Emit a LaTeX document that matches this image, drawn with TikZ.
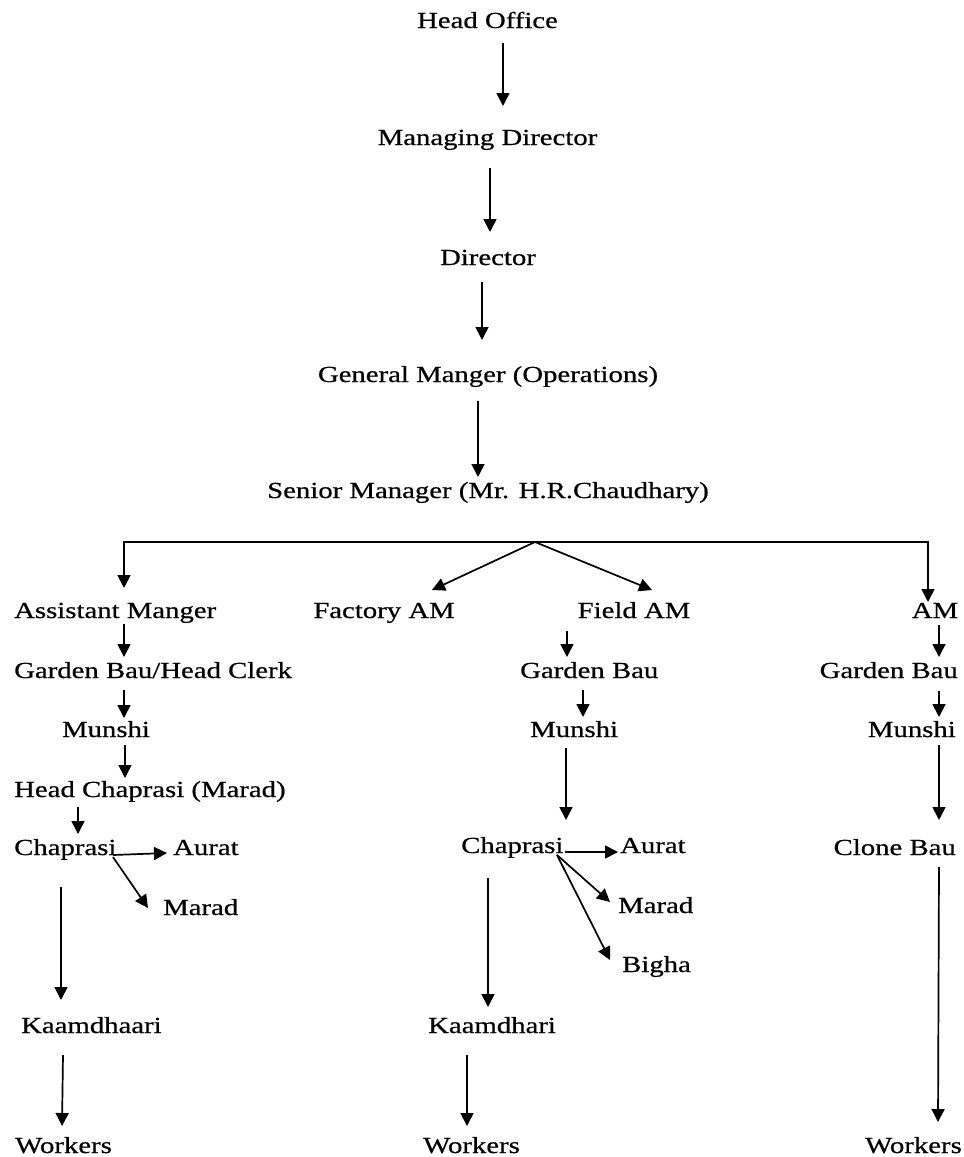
\documentclass[tikz,border=0pt]{standalone}
\usepackage{fontspec}
\setmainfont{Liberation Serif}[FakeStretch=1.25,FakeBold=0.6]
\usetikzlibrary{arrows.meta,calc}
\begin{document}
\begin{tikzpicture}[x=1pt,y=-1pt,
  lbl/.style={inner sep=0pt, font=\fontsize{23}{27}\selectfont},
  arr/.style={line width=1.7pt, -{Triangle[width=13pt,length=13pt]}}]
\useasboundingbox (0,0) rectangle (964,1157);
% top chain
\node[lbl,anchor=base] (ho) at (487.5,28) {Head Office};
\node[lbl,anchor=base] (md) at (487.5,145) {Managing Director};
\node[lbl,anchor=base] (dir) at (488,265) {Director};
\node[lbl,anchor=base] (gm) at (488,382) {General Manger (Operations)};
\node[lbl,anchor=base] (sm) at (488,498) {Senior Manager (Mr. H.R.Chaudhary)};
% row of managers
\node[lbl,anchor=base west] (am1) at (14,618) {Assistant Manger};
\node[lbl,anchor=base] (fam) at (384,618) {Factory AM};
\node[lbl,anchor=base] (fld) at (634,618) {Field AM};
\node[lbl,anchor=base] (am2) at (935,618) {AM};
% left column
\node[lbl,anchor=base west] (gbh) at (14,678) {Garden Bau/Head Clerk};
\node[lbl,anchor=base] (mu1) at (106,737) {Munshi};
\node[lbl,anchor=base west] (hc) at (14,797) {Head Chaprasi (Marad)};
\node[lbl,anchor=base west] (ch1) at (14,855) {Chaprasi};
\node[lbl,anchor=base west] (au1) at (173,855) {Aurat};
\node[lbl,anchor=base west] (ma1) at (163,915) {Marad};
\node[lbl,anchor=base west] (ka1) at (21,1033) {Kaamdhaari};
\node[lbl,anchor=base west] (wk1) at (15,1153) {Workers};
% middle column
\node[lbl,anchor=base west] (gb2) at (520,678) {Garden Bau};
\node[lbl,anchor=base west] (mu2) at (530,737) {Munshi};
\node[lbl,anchor=base west] (ch2) at (461,853) {Chaprasi};
\node[lbl,anchor=base west] (au2) at (620,853) {Aurat};
\node[lbl,anchor=base west] (ma2) at (618,913) {Marad};
\node[lbl,anchor=base west] (bi2) at (622,972) {Bigha};
\node[lbl,anchor=base west] (ka2) at (428,1033) {Kaamdhari};
\node[lbl,anchor=base west] (wk2) at (423,1153) {Workers};
% right column
\node[lbl,anchor=base east] (gb3) at (958,678) {Garden Bau};
\node[lbl,anchor=base east] (mu3) at (956,737) {Munshi};
\node[lbl,anchor=base east] (cb3) at (956,855) {Clone Bau};
\node[lbl,anchor=base east] (wk3) at (962,1153) {Workers};
% top arrows
\draw[arr] ($(ho.base)+(15.5,15)$) -- ($(md.base)+(15.5,-39)$);
\draw[arr] ($(md.base)+(2.5,23)$) -- ($(dir.base)+(2,-33)$);
\draw[arr] ($(dir.base)+(-6,17)$) -- ($(gm.base)+(-6,-42)$);
\draw[arr] ($(gm.base)+(-10,19)$) -- ($(sm.base)+(-10,-21)$);
% branching
\coordinate (apex) at ($(sm.base)+(47,44)$);
\draw[arr] (apex) -| ($(am1.base west)+(110,-30)$);
\draw[arr] (apex) -| ($(am2.base)+(-7,-16)$);
\draw[arr] (apex) -- ($(fam.base)+(48,-28)$);
\draw[arr] (apex) -- ($(fld.base)+(18,-28)$);
% left column arrows
\draw[arr] ($(am1.base west)+(110,6)$) -- ($(gbh.base west)+(110,-21)$);
\draw[arr] ($(gbh.base west)+(110,12)$) -- ($(mu1.base)+(18,-19)$);
\draw[arr] ($(mu1.base)+(19,8)$) -- ($(hc.base west)+(111,-19)$);
\draw[arr] ($(hc.base west)+(64,10)$) -- ($(ch1.base west)+(64,-21)$);
\draw[arr] ($(ch1.base west)+(99,0)$) -- ($(au1.base west)+(-6,-2)$);
\draw[arr] ($(ch1.base west)+(99,2)$) -- ($(ma1.base west)+(-15,-7)$);
\draw[arr] ($(ch1.base west)+(47,32)$) -- ($(ka1.base west)+(40,-33)$);
\draw[arr] ($(ka1.base west)+(42,22)$) -- ($(wk1.base west)+(47,-27)$);
% middle column arrows
\draw[arr] ($(fld.base)+(-67,13)$) -- ($(gb2.base west)+(47,-21)$);
\draw[arr] ($(gb2.base west)+(63,12)$) -- ($(mu2.base west)+(53,-20)$);
\draw[arr] ($(mu2.base west)+(36,11)$) -- ($(ch2.base west)+(105,-33)$);
\draw[arr] ($(ch2.base west)+(104,-1)$) -- ($(au2.base west)+(-2,-1)$);
\draw[arr] ($(ch2.base west)+(96,2)$) -- ($(ma2.base west)+(-8,-11)$);
\draw[arr] ($(ch2.base west)+(96,2)$) -- ($(bi2.base west)+(-12,-12)$);
\draw[arr] ($(ch2.base west)+(27,25)$) -- ($(ka2.base west)+(60,-26)$);
\draw[arr] ($(ka2.base west)+(39,22)$) -- ($(wk2.base west)+(44,-27)$);
% right column arrows
\draw[arr] ($(am2.base)+(4,7)$) -- ($(gb3.base east)+(-19,-21)$);
\draw[arr] ($(gb3.base east)+(-19,13)$) -- ($(mu3.base east)+(-17,-20)$);
\draw[arr] ($(mu3.base east)+(-17,8)$) -- ($(cb3.base east)+(-17,-35)$);
\draw[arr] ($(cb3.base east)+(-17,12)$) -- ($(wk3.base east)+(-24,-31)$);
\end{tikzpicture}
\end{document}
